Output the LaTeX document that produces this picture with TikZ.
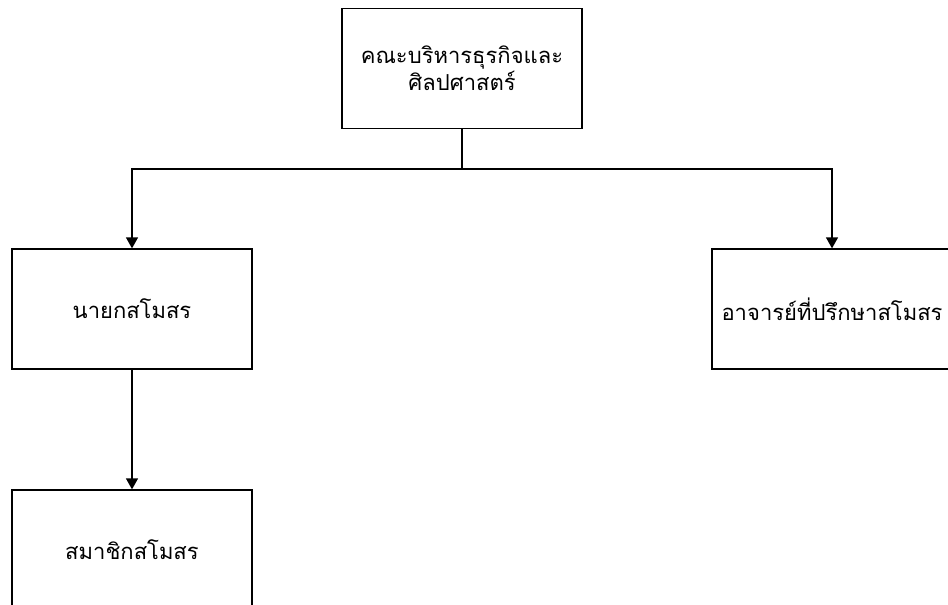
\documentclass[tikz,border=0pt]{standalone}
\usepackage{fontspec}
\newfontfamily\thaifont[Script=Thai]{Loma}
\usetikzlibrary{arrows.meta}

\begin{document}
\begin{tikzpicture}[x=1pt, y=-1pt]
    \useasboundingbox (0,0) rectangle (948,605);
    \begin{scope}[
            every node/.style={draw, line width=1.3pt, rectangle, minimum width=240pt,
                minimum height=120pt, inner sep=0pt, align=center,
                font=\thaifont\fontsize{22}{27}\selectfont},
        ]

        \node (fac) at (462,68.5) {คณะบริหารธุรกิจและ\\ศิลปศาสตร์};
        \node (pres) at (132,309) {นายกสโมสร};
        \node (adv) at (832,309) {อาจารย์ที่ปรึกษาสโมสร};
        \node (mem) at (132,550) {สมาชิกสโมสร};
    \end{scope}

    \coordinate (split) at (462,169);

    \draw[line width=1.3pt] (fac) -- (split);
    \draw[line width=1.3pt, -{Triangle[length=11pt, width=12pt]}] (split) -| (pres);
    \draw[line width=1.3pt, -{Triangle[length=11pt, width=12pt]}] (split) -| (adv);
    \draw[line width=1.3pt, -{Triangle[length=11pt, width=12pt]}] (pres) -- (mem);
\end{tikzpicture}
\end{document}
